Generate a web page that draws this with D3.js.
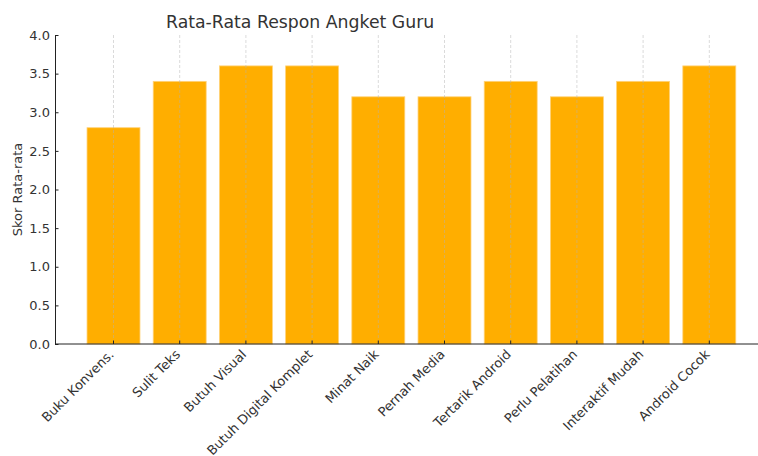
<!DOCTYPE html>
<html>
<head>
<meta charset="utf-8">
<script src="https://cdn.jsdelivr.net/npm/d3@7"></script>
<style>
  html, body { margin: 0; padding: 0; background: #fff; }
  svg { display: block; font-family: "DejaVu Sans", sans-serif; }
</style>
</head>
<body>
<svg id="chart" width="758" height="456"></svg>
<script>
// Survey items and mean scores
const categories = [
  "Buku Konvens.", "Sulit Teks", "Butuh Visual", "Butuh Digital Komplet",
  "Minat Naik", "Pernah Media", "Tertarik Android", "Perlu Pelatihan",
  "Interaktif Mudah", "Android Cocok"
];
const scores = [2.8, 3.4, 3.6, 3.6, 3.2, 3.2, 3.4, 3.2, 3.4, 3.6];
const yTicks = [0, 0.5, 1.0, 1.5, 2.0, 2.5, 3.0, 3.5, 4.0];
const titleText = "Rata-Rata Respon Angket Guru";
const yLabel = "Skor Rata-rata";

const svg = d3.select("#chart");
const plot = { left: 55, right: 768, top: 35, bottom: 344 };
const textColor = "#333333";
const labelSize = "13px";

const x = d3.scaleBand()
  .domain(categories)
  .range([80.4, 742.4])
  .paddingInner(0.2)
  .paddingOuter(0.1);

const y = d3.scaleLinear().domain([0, 4]).range([plot.bottom, plot.top]);

// Bars
svg.append("g").selectAll("rect")
  .data(categories.map((c, i) => ({ c, v: scores[i] })))
  .join("rect")
  .attr("x", d => x(d.c))
  .attr("width", x.bandwidth())
  .attr("y", d => y(d.v))
  .attr("height", d => y(0) - y(d.v))
  .attr("fill", "#ffae00")
  .attr("stroke", "#ffd27a")
  .attr("stroke-width", 0.8);

// Vertical dashed grid at category centres
svg.append("g").selectAll("line")
  .data(categories)
  .join("line")
  .attr("x1", d => x(d) + x.bandwidth() / 2)
  .attr("x2", d => x(d) + x.bandwidth() / 2)
  .attr("y1", plot.top)
  .attr("y2", plot.bottom)
  .attr("stroke", "#b0b0b0")
  .attr("stroke-opacity", 0.6)
  .attr("stroke-width", 0.8)
  .attr("stroke-dasharray", "3,2");

// Y axis (ticks pointing inward)
const yAxis = svg.append("g")
  .attr("transform", `translate(${plot.left},0)`)
  .call(d3.axisLeft(y).tickValues(yTicks).tickFormat(d3.format(".1f")).tickSizeInner(-3.5).tickSizeOuter(0).tickPadding(5));
yAxis.select(".domain").attr("stroke", "#222").attr("stroke-width", 1);
yAxis.selectAll(".tick line").attr("stroke", "#222");
yAxis.selectAll(".tick text")
  .attr("fill", textColor)
  .style("font-size", labelSize)
  .style("font-family", "DejaVu Sans, sans-serif");

// X axis with rotated labels
const xCenter = d3.scaleOrdinal(categories, categories.map(c => x(c) + x.bandwidth() / 2));
const xAxis = svg.append("g").attr("transform", `translate(0,${plot.bottom})`);
xAxis.append("line")
  .attr("x1", plot.left).attr("x2", plot.right)
  .attr("stroke", "#222").attr("stroke-width", 1);
const xt = xAxis.selectAll("g.xtick")
  .data(categories)
  .join("g")
  .attr("class", "xtick")
  .attr("transform", d => `translate(${xCenter(d)},0)`);
xt.append("line").attr("y1", 0).attr("y2", -3.5).attr("stroke", "#222");
xt.append("text")
  .attr("transform", "translate(-2,8) rotate(-45)")
  .attr("text-anchor", "end")
  .attr("dy", "0.35em")
  .attr("fill", textColor)
  .style("font-size", labelSize)
  .text(d => d);

// Y axis label
svg.append("text")
  .attr("transform", `translate(22,${(plot.top + plot.bottom) / 2}) rotate(-90)`)
  .attr("text-anchor", "middle")
  .attr("fill", textColor)
  .style("font-size", labelSize)
  .text(yLabel);

// Title
svg.append("text")
  .attr("x", 166)
  .attr("y", 28)
  .attr("fill", textColor)
  .style("font-size", "17.3px")
  .text(titleText);
</script>
</body>
</html>
